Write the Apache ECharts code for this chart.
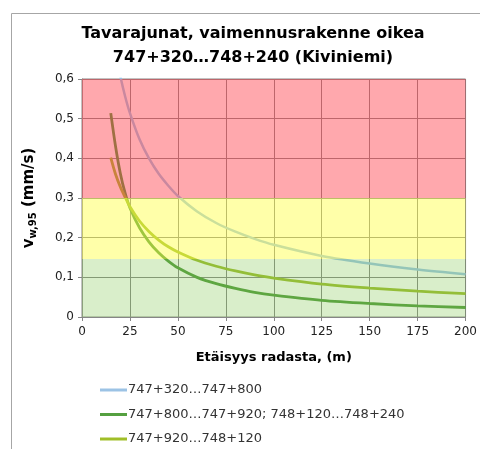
<!DOCTYPE html>
<html>
<head>
<meta charset="utf-8">
<script src="https://cdn.jsdelivr.net/npm/echarts@6/dist/echarts.min.js"></script>
<style>html,body{margin:0;padding:0;background:#fff}#c{width:480px;height:449px}</style>
</head>
<body>
<div id="c"></div>
<script>
// distances (m)
var distances = [15, 17.5, 20, 22.5, 25, 30, 35, 40, 45, 50, 60, 70, 80, 90, 100, 125, 150, 175, 200];
// series values (mm/s)
var s1Name = '747+320…747+800';
var s1 = [0.754, 0.671, 0.607, 0.556, 0.514, 0.448, 0.399, 0.361, 0.331, 0.305, 0.266, 0.237, 0.215, 0.197, 0.182, 0.154, 0.135, 0.120, 0.108];
var s2Name = '747+800…747+920; 748+120…748+240';
var s2 = [0.514, 0.430, 0.362, 0.312, 0.275, 0.225, 0.189, 0.162, 0.141, 0.124, 0.100, 0.084, 0.072, 0.062, 0.055, 0.042, 0.034, 0.028, 0.024];
var s3Name = '747+920…748+120';
var s3 = [0.402, 0.360, 0.328, 0.302, 0.278, 0.242, 0.215, 0.194, 0.177, 0.164, 0.143, 0.128, 0.116, 0.106, 0.098, 0.083, 0.073, 0.065, 0.059];
// limit bands
var bandLimits = [0, 0.146, 0.3, 0.6];
var xTicks = [0, 200, 25];
var yTicks = [0, 0.6, 0.1];

function pairs(arr){ return distances.map(function(d,i){ return [d, arr[i]]; }); }

var chart = echarts.init(document.getElementById('c'), null, {renderer:'canvas'});
var font = 'DejaVu Sans';
chart.setOption({
  animation: false,
  textStyle: {fontFamily: font},
  graphic: [{type:'rect', shape:{x:11.5, y:13.5, width:500, height:500}, style:{fill:'none', stroke:'#a6a6a6', lineWidth:1}, z:-10}],
  title: {
    text: 'Tavarajunat, vaimennusrakenne oikea\n747+320…748+240 (Kiviniemi)',
    left: 253, top: 22, textAlign: 'center', padding: 0,
    textStyle: {fontFamily: font, fontSize: 16, fontWeight: 'bold', color: '#000', lineHeight: 24}
  },
  grid: {left: 82, top: 79, right: 13, bottom: 132, show: true, borderColor: '#868686', borderWidth: 1, backgroundColor: 'transparent'},
  legend: {
    orient: 'vertical', left: 100, top: 383, icon: 'rect', itemWidth: 27, itemHeight: 3, itemGap: 10.5, padding: 0,
    textStyle: {fontFamily: font, fontSize: 13, color: '#333', lineHeight: 14, padding: [0,0,0,-4]},
    data: [s1Name, s2Name, s3Name]
  },
  xAxis: {
    type: 'value', min: xTicks[0], max: xTicks[1], interval: xTicks[2],
    name: 'Etäisyys radasta, (m)', nameLocation: 'middle', nameGap: 34,
    nameTextStyle: {fontFamily: font, fontSize: 13, fontWeight: 'bold', color: '#000'},
    axisLine: {lineStyle: {color: '#868686'}},
    axisTick: {show: true, length: 4, lineStyle: {color: '#868686'}},
    axisLabel: {fontFamily: font, fontSize: 12, color: '#222', margin: 9},
    splitLine: {show: true, lineStyle: {color: '#7a7a7a', width: 1}}
  },
  yAxis: {
    type: 'value', min: yTicks[0], max: yTicks[1], interval: yTicks[2],
    name: '{v|v}{s|w,95}{n| (mm/s)}', nameLocation: 'middle', nameGap: 44,
    nameTextStyle: {fontFamily: font, fontSize: 15, fontWeight: 'bold', color: '#000',
      rich: {
        v: {fontFamily: font, fontSize: 15, fontWeight: 'bold', color: '#000'},
        s: {fontFamily: font, fontSize: 10, fontWeight: 'bold', color: '#000', verticalAlign: 'bottom', padding: [7,0,0,0]},
        n: {fontFamily: font, fontSize: 15, fontWeight: 'bold', color: '#000'}
      }},
    axisLine: {show: true, lineStyle: {color: '#868686'}},
    axisTick: {show: true, length: 4, lineStyle: {color: '#868686'}},
    axisLabel: {fontFamily: font, fontSize: 12, color: '#222', margin: 8,
      formatter: function(v){ return (Math.round(v*10)/10).toString().replace('.', ','); }},
    splitLine: {show: true, lineStyle: {color: '#7a7a7a', width: 1}}
  },
  series: [
    {name: s1Name, type: 'line', data: pairs(s1), smooth: 0.3, showSymbol: false, symbol: 'none',
      lineStyle: {color: '#94bfe3', width: 2.5}, itemStyle: {color: '#9cc3e5'}, z: 2},
    {name: s2Name, type: 'line', data: pairs(s2), smooth: 0.3, showSymbol: false, symbol: 'none',
      lineStyle: {color: '#3f8f2a', width: 2.8}, itemStyle: {color: '#55a040'}, z: 2},
    {name: s3Name, type: 'line', data: pairs(s3), smooth: 0.3, showSymbol: false, symbol: 'none',
      lineStyle: {color: '#93b51c', width: 2.8}, itemStyle: {color: '#a0be28'}, z: 2},
    {name: 'bands', type: 'line', data: [], z: 10, silent: true,
      markArea: {silent: true, z: 10, data: [
        [{yAxis: bandLimits[2], itemStyle: {color: 'rgba(255,82,92,0.5)'}}, {yAxis: bandLimits[3]}],
        [{yAxis: bandLimits[1], itemStyle: {color: 'rgba(255,255,84,0.5)'}}, {yAxis: bandLimits[2]}],
        [{yAxis: bandLimits[0], itemStyle: {color: 'rgba(150,208,108,0.36)'}}, {yAxis: bandLimits[1]}]
      ]}}
  ]
});
</script>
</body>
</html>
